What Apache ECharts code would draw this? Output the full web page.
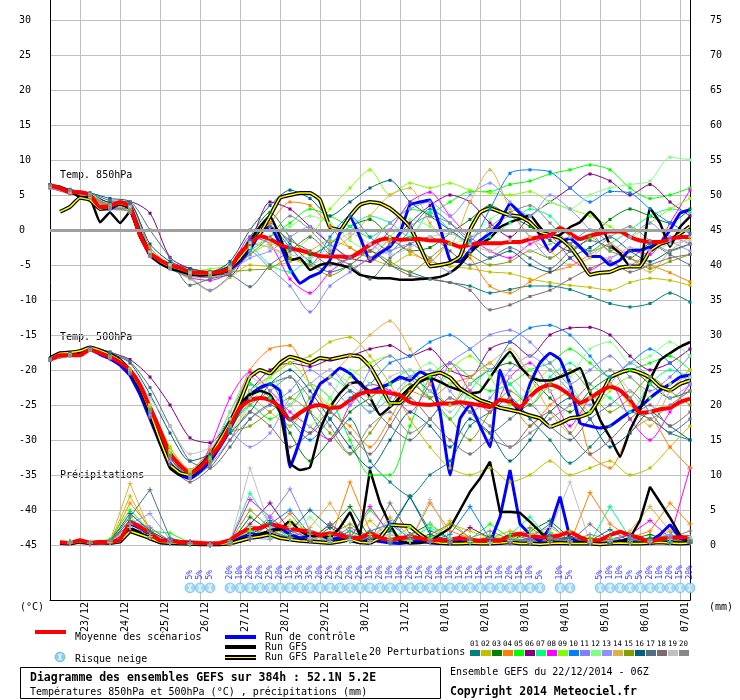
<!DOCTYPE html>
<html>
<head>
<meta charset="utf-8">
<script src="https://cdn.jsdelivr.net/npm/echarts/dist/echarts.min.js"></script>
<style>
  html, body { margin: 0; padding: 0; background: #fff; }
  #chart { width: 740px; height: 700px; }
</style>
</head>
<body>
<div id="chart"></div>
<script>
"use strict";

var MONO = "'DejaVu Sans Mono', monospace";

// time steps: every 6h from 22/12/2014 06Z, 0..384h
var hours = [];
for (var h = 0; h <= 384; h += 6) hours.push(String(h));

var dayLabels = ['23/12', '24/12', '25/12', '26/12', '27/12', '28/12', '29/12', '30/12',
	'31/12', '01/01', '02/01', '03/01', '04/01', '05/01', '06/01', '07/01'];

var pertColors = ['#008080', '#c0c000', '#008000', '#ff8000', '#00ff00', '#800080', '#00ff80', '#ff00ff',
	'#80ff00', '#0080ff', '#8080ff', '#80ff80', '#9090ff', '#e0b040', '#80a000', '#006080',
	'#507080', '#806870', '#c0c0c0', '#888888'];

// ---- 6-hourly main runs ----
var t850Mean = [6.4, 6.0, 5.4, 5.4, 5.0, 3.3, 3.4, 4.0,
	3.3, -0.7, -3.3, -4.3, -5.0, -5.4, -6.0, -6.1,
	-6.1, -6.0, -5.4, -3.3, -2.0, -0.9, -1.3, -2.1,
	-2.6, -2.9, -3.3, -3.7, -3.8, -3.8, -3.9, -3.1,
	-2.1, -1.4, -1.2, -1.4, -1.3, -1.3, -1.5, -1.5,
	-1.9, -2.4, -2.1, -1.9, -1.9, -1.9, -1.7, -1.7,
	-1.3, -1.0, -0.8, 0.3, -0.5, -1.3, -0.8, -0.5,
	-0.2, -0.2, -1.0, -1.5, -1.7, -1.7, -1.3, -1.0,
	-1.0];
var t850Ctrl = [6.3, 6.0, 5.3, 5.4, 5.0, 3.1, 3.0, 3.8,
	3.0, -0.8, -3.6, -4.6, -5.3, -5.8, -6.2, -6.4,
	-6.4, -6.1, -5.6, -4.5, -2.8, -0.5, 0.5, -2.0,
	-5.5, -7.6, -6.7, -6.1, -4.3, -0.4, 1.9, -1.0,
	-4.3, -3.3, -2.4, -0.4, 3.6, 4.0, 4.3, 0.4,
	-4.3, -4.5, -2.9, -1.5, -0.5, 1.1, 3.8, 2.4,
	1.2, -0.7, -3.1, -1.7, -1.2, -2.4, -3.8, -3.8,
	-5.0, -4.3, -2.9, -2.9, -2.4, -1.9, 0.0, 2.4,
	2.9];
var t850Gfs = [6.4, 6.2, 5.5, 4.7, 4.6, 1.1, 2.5, 1.0,
	2.6, -1.0, -3.5, -4.8, -5.5, -5.9, -6.3, -6.5,
	-6.4, -6.2, -5.7, -3.5, -1.5, 0.5, 2.0, -1.0,
	-4.3, -4.0, -5.7, -5.0, -4.7, -5.0, -5.4, -6.4,
	-6.7, -6.9, -6.9, -7.1, -7.1, -7.0, -6.9, -6.7,
	-6.1, -5.0, -3.3, -2.0, -1.2, 0.4, 1.1, 1.6,
	2.1, 0.4, -1.0, -0.7, 0.4, 1.1, 2.6, 1.1,
	-2.1, -3.3, -5.2, -5.2, 3.1, 1.0, -2.4, 0.4,
	1.9];
var t850Para = [null, 2.6, 3.3, 4.6, 4.3, 3.0, 3.3, 3.8,
	3.2, -0.5, -3.4, -4.5, -5.2, -5.6, -6.1, -6.3,
	-6.2, -6.0, -5.4, -4.0, -2.2, -0.5, 2.0, 4.6,
	5.0, 5.3, 5.3, 4.3, 0.4, 0.0, 2.0, 3.6,
	4.0, 3.8, 3.1, 1.9, 0.4, -2.4, -5.2, -5.0,
	-4.7, -3.8, 0.0, 2.5, 3.1, 2.6, 2.1, 1.9,
	1.1, -0.3, -0.7, -1.2, -2.4, -4.3, -6.4, -6.1,
	-6.0, -5.4, -5.2, -5.2, -3.0, -2.0, -1.5, -0.5,
	0.5];

var t500Mean = [-18.6, -17.9, -17.9, -17.9, -17.1, -17.6, -18.1, -18.9,
	-20.0, -22.1, -25.3, -28.6, -31.9, -33.6, -34.7, -33.9,
	-32.4, -30.7, -28.1, -25.4, -24.3, -24.0, -24.3, -25.3,
	-27.1, -26.1, -25.3, -25.0, -25.4, -25.3, -24.3, -23.4,
	-23.1, -23.1, -23.3, -23.6, -24.6, -24.9, -25.0, -24.8,
	-24.8, -24.6, -24.8, -25.0, -25.3, -24.3, -24.6, -25.3,
	-23.8, -22.6, -22.1, -22.6, -23.6, -24.7, -24.0, -23.1,
	-22.4, -22.9, -24.3, -26.1, -26.0, -25.6, -25.4, -24.6,
	-24.1];
var t500Ctrl = [-18.3, -17.7, -17.6, -17.5, -17.0, -17.8, -18.4, -19.3,
	-20.8, -23.5, -27.0, -30.5, -33.5, -35.0, -35.5, -34.5,
	-33.0, -31.0, -28.5, -25.5, -23.5, -22.5, -22.0, -23.0,
	-33.9, -30.0, -25.0, -22.0, -21.0, -19.7, -20.5, -22.0,
	-23.0, -22.5, -21.9, -21.0, -21.5, -20.3, -21.0, -26.0,
	-35.0, -27.0, -25.0, -28.0, -31.0, -20.0, -24.0, -26.0,
	-22.0, -19.0, -17.6, -18.5, -22.0, -27.6, -28.0, -28.3,
	-28.0, -27.0, -26.0, -25.3, -24.0, -22.9, -22.0, -21.0,
	-20.7];
var t500Gfs = [-18.5, -17.8, -17.8, -17.6, -17.0, -17.4, -18.0, -18.8,
	-20.2, -22.8, -26.5, -30.5, -34.0, -35.0, -34.8, -33.6,
	-32.0, -30.0, -27.5, -24.8, -23.5, -23.0, -23.5, -26.0,
	-33.3, -34.3, -33.9, -28.6, -25.3, -23.3, -21.9, -21.7,
	-23.9, -26.4, -25.3, -23.9, -22.5, -21.7, -21.1, -21.7,
	-22.4, -22.9, -23.3, -23.1, -21.1, -19.0, -17.4, -19.5,
	-21.0, -21.5, -21.5, -21.0, -20.4, -19.7, -23.3, -27.1,
	-29.6, -32.4, -28.6, -25.7, -21.4, -18.6, -17.6, -16.7,
	-16.0];
var t500Para = [-18.3, -17.6, -17.5, -17.3, -16.8, -17.2, -17.8, -18.6,
	-20.1, -22.5, -26.0, -30.0, -33.5, -34.7, -35.0, -34.0,
	-32.3, -30.0, -27.5, -24.5, -21.0, -20.0, -20.5, -19.0,
	-18.1, -18.5, -19.0, -18.3, -18.5, -18.2, -17.9, -18.1,
	-19.5, -22.0, -24.7, -24.7, -23.1, -21.4, -20.7, -20.4,
	-21.1, -22.6, -23.5, -24.3, -24.8, -25.4, -25.7, -26.0,
	-26.5, -26.9, -28.1, -27.6, -26.9, -26.7, -26.1, -23.9,
	-21.1, -20.4, -20.0, -20.4, -21.1, -22.4, -22.9, -22.0,
	-21.5];

var rrMean = [null, 0.4, 0.3, 0.7, 0.3, 0.4, 0.4, 0.7,
	3.3, 2.6, 1.7, 0.6, 0.6, 0.4, 0.4, 0.3,
	0.2, 0.3, 0.7, 1.7, 2.4, 2.4, 3.0, 2.7,
	2.3, 2.1, 1.9, 1.4, 1.7, 1.4, 1.0, 1.0,
	1.7, 1.0, 0.7, 1.0, 1.1, 1.0, 0.6, 0.7,
	0.8, 1.0, 0.7, 0.6, 0.7, 0.6, 1.4, 1.6,
	1.3, 1.1, 1.1, 1.4, 1.9, 1.1, 0.6, 0.7,
	1.4, 1.9, 1.4, 1.0, 0.4, 0.9, 1.0, 1.1,
	1.1];
var rrCtrl = [null, 0.4, 0.3, 0.6, 0.3, 0.4, 0.4, 0.6,
	3.0, 2.5, 1.5, 0.5, 0.4, 0.3, 0.2, 0.1,
	0.1, 0.1, 0.3, 1.0, 1.5, 1.5, 2.0, 2.5,
	1.5, 1.0, 1.2, 1.5, 0.8, 1.0, 0.6, 0.3,
	0.8, 0.5, 0.3, 0.2, 0.4, 0.6, 0.3, 0.2,
	0.4, 0.5, 0.3, 0.2, 0.3, 4.0, 10.7, 3.0,
	1.5, 0.5, 2.5, 6.9, 1.0, 0.3, 0.2, 0.2,
	0.3, 0.6, 0.4, 0.2, 0.5, 1.5, 2.9, 1.0,
	0.4];
var rrGfs = [null, 0.3, 0.2, 0.5, 0.2, 0.3, 0.3, 0.8,
	2.5, 1.8, 0.8, 0.3, 0.2, 0.2, 0.1, 0.1,
	0.0, 0.0, 0.3, 0.5, 1.0, 1.5, 2.0, 2.2,
	3.5, 2.0, 1.2, 1.5, 1.0, 2.5, 4.7, 1.4,
	10.7, 6.0, 2.9, 0.5, 0.2, 0.3, 0.5, 1.5,
	2.4, 5.0, 7.6, 9.5, 11.9, 4.7, 4.7, 4.6,
	3.3, 1.9, 0.5, 0.3, 0.2, 0.4, 0.3, 0.1,
	0.2, 0.5, 1.0, 3.5, 8.3, 6.1, 3.9, 1.4,
	0.4];
var rrPara = [null, 0.3, 0.2, 0.5, 0.3, 0.4, 0.3, 0.5,
	2.0, 1.5, 1.0, 0.4, 0.3, 0.2, 0.2, 0.1,
	0.1, 0.1, 0.2, 0.6, 1.0, 1.2, 1.5, 1.0,
	0.8, 0.6, 0.5, 0.4, 0.3, 0.5, 0.8, 0.4,
	0.3, 1.0, 2.9, 2.8, 2.7, 1.5, 0.5, 0.3,
	0.2, 0.2, 0.3, 0.2, 0.2, 0.3, 0.4, 0.2,
	0.2, 0.1, 0.2, 0.3, 0.2, 0.2, 0.2, 0.1,
	0.2, 0.3, 0.2, 0.2, 0.3, 0.4, 0.3, 0.2,
	0.3];

// ---- 12-hourly perturbations (01..20) ----
var t850Pert = [
	[6.2,5.6,5.2,3.8,3.0,-3.5,-5.2,-6.4,-6.0,-5.0,-1.5, 1.0,-2.0,-4.5,-6.0,-5.0,-3.0,-5.0,-6.0,-7.0,-7.5,-8.0, -9.0,-8.5,-8.0,-8.0,-8.5,-9.5,-10.5,-11.0,-10.5,-9.0,-10.3],
	[6.0,5.2,4.5,3.0,2.5,-3.8,-5.5,-7.0,-8.7,-6.8,-5.0, -5.2,-4.5,-3.0,-1.5,-2.5,-4.0,-5.0,-3.5,-4.5,-5.2,-5.5, -6.0,-6.2,-7.0,-7.5,-7.9,-8.2,-8.6,-7.5,-6.9,-7.2,-7.9],
	[6.3,5.5,5.1,3.6,3.4,-3.0,-4.8,-5.8,-6.2,-5.6,-1.0, 2.5,-1.0,-3.5,-2.0,0.5,1.5,-1.0,-3.0,-2.5,-0.5,1.5, 3.5,2.0,0.5,-1.5,-3.0,-1.0,1.5,3.0,2.0,1.0,3.0],
	[6.1,5.3,4.6,3.2,3.6,-2.5,-5.0,-6.2,-6.4,-5.0,-2.0, 1.0,4.0,3.5,0.5,-2.5,-3.9,-1.5,-3.0,-4.5,-2.0,-4.0, -8.0,-9.0,-7.4,-6.0,-5.2,-3.5,-2.0,-4.0,-5.0,-6.1,-7.4],
	[6.4,5.6,5.2,3.5,3.0,-3.6,-5.4,-6.5,-6.6,-6.0,-3.0, -1.0,1.0,3.0,2.0,0.5,-1.0,1.0,3.0,2.5,4.0,5.5, 5.5,6.5,7.0,8.0,8.6,9.3,8.6,6.0,4.5,5.0,6.0],
	[6.5,5.8,5.0,4.0,4.0,2.4,-3.9,-5.5,-6.0,-6.5,-2.0, 4.0,3.0,0.5,-2.0,-4.0,-4.5,-2.0,1.0,3.5,5.0,4.0, 1.0,-1.0,2.0,4.0,6.0,8.0,7.0,5.0,6.5,4.0,2.0],
	[6.2,5.4,5.0,3.3,3.1,-3.2,-5.1,-6.0,-6.0,-5.2,-2.5, -5.0,-6.0,-4.0,-2.0,0.5,2.0,1.0,-1.0,2.5,0.0,-2.0, -1.0,1.0,3.0,2.0,-1.0,-3.0,-2.0,0.0,2.0,3.0,2.5],
	[6.0,5.2,4.8,3.2,3.0,-3.5,-5.3,-6.8,-7.2,-6.0,-1.0, -2.0,-7.0,-9.0,-6.0,-4.0,-3.0,0.0,4.0,5.4,2.0,-1.0, -3.0,-4.0,-2.0,-1.0,-4.0,-5.7,-4.0,-3.0,-3.5,1.0,5.7],
	[6.3,5.5,4.9,3.6,3.2,-3.1,-5.0,-5.8,-5.6,-5.0,-3.5, -2.0,-3.0,-1.0,3.0,6.0,8.6,5.0,6.7,6.0,6.7,5.7, 5.3,5.0,5.5,4.0,3.0,2.0,0.5,-1.0,1.0,3.0,4.5],
	[6.2,5.5,5.0,3.4,3.5,-3.0,-4.9,-6.0,-6.3,-5.0,-1.5, 0.5,-2.5,-5.0,-1.0,2.0,-1.0,-3.0,0.0,3.0,1.0,-1.5, 3.0,8.1,8.6,8.3,6.0,4.0,5.5,5.3,3.0,1.0,-0.5],
	[6.0,5.3,4.7,3.0,2.8,-3.8,-5.6,-6.8,-8.6,-6.5,-3.0, -5.5,-8.0,-11.7,-8.0,-6.0,-4.0,-3.0,-2.0,-4.0,-6.0,-3.0, 0.0,2.0,-1.0,-4.0,-2.0,0.0,-2.0,-5.0,-3.0,-1.0,-2.0],
	[6.3,5.6,5.2,3.5,3.3,-3.4,-5.0,-6.1,-6.2,-5.5,-2.5, -1.0,0.5,2.0,1.0,-1.5,-3.0,-1.0,1.5,0.5,-2.0,-1.0, 1.5,3.0,2.0,4.0,3.0,5.0,6.0,6.5,7.0,10.4,10.0],
	[6.1,5.4,4.9,3.4,3.1,-3.3,-5.2,-6.3,-6.5,-5.8,-4.0, -3.0,-1.0,0.5,-2.0,-4.0,-2.0,1.0,3.0,4.0,2.0,5.0, 6.7,4.0,2.0,5.0,3.0,0.0,-3.0,-1.0,1.0,-1.5,-3.0],
	[6.2,5.4,4.8,3.3,3.2,-3.2,-5.3,-6.4,-6.6,-5.6,-2.0, -2.5,-4.0,-5.0,-3.0,-1.0,2.0,5.0,6.0,1.0,-2.0,4.0, 8.6,3.0,-1.0,-3.0,-5.0,-4.0,-2.0,-4.0,-6.0,-3.0,-1.0],
	[6.1,5.3,4.9,3.2,3.0,-3.6,-5.4,-6.2,-6.3,-6.0,-5.7, -5.5,-4.0,-5.0,-6.5,-5.0,-3.0,-4.5,-6.0,-4.0,-2.0,-3.5, -5.0,-4.5,-3.0,-4.0,-2.0,-1.0,-3.0,-4.0,-5.5,-4.5,-3.5],
	[6.4,5.6,5.3,4.5,4.0,-2.0,-4.5,-5.5,-6.0,-4.5,0.0, 3.5,5.7,4.5,2.0,4.0,6.0,7.1,4.0,2.0,0.0,-2.0, -4.0,-3.0,-5.0,-6.0,-4.0,-2.5,-1.0,-3.0,-4.5,-3.0,-2.0],
	[6.5,5.8,5.3,4.2,4.0,0.0,-4.0,-7.9,-7.0,-6.5,-8.1, -5.0,-3.0,-1.0,-3.5,-5.0,-7.0,-4.0,-2.0,-1.0,-3.0,-5.0, -4.0,-2.5,-4.0,-5.5,-3.0,-1.5,-2.5,-4.0,-2.0,-3.5,-5.0],
	[6.3,5.7,5.0,3.5,3.3,-3.4,-5.2,-6.0,-6.0,-5.2,-2.0, 0.5,-1.5,-3.0,-5.0,-4.0,-3.0,-5.0,-6.5,-7.0,-7.5,-8.6, -11.4,-10.7,-9.5,-8.6,-7.0,-5.5,-4.5,-6.0,-5.0,-4.0,-3.5],
	[6.2,5.4,5.1,3.4,3.3,-3.1,-5.0,-6.1,-6.1,-5.3,-1.8, -2.5,-3.5,-4.0,-2.5,-0.5,-2.0,-3.5,-2.5,-1.0,-0.5,-2.0, -3.0,-1.5,-3.0,-2.0,-1.0,-3.5,-4.0,-2.5,-3.0,-2.0,-1.5],
	[6.3,5.6,5.0,3.3,2.5,-3.7,-5.5,-6.6,-6.8,-6.0,-3.5, -1.0,2.0,0.0,-3.0,-5.5,-4.0,-2.0,0.5,2.0,1.0,-1.0, 0.5,2.5,3.5,1.0,-2.0,-3.0,-1.0,0.5,-1.5,-3.0,-2.0]
];

var t500Pert = [
	[-18.4,-17.8,-17.2,-18.0,-20.5,-26.0,-32.5,-35.0,-33.0,-28.0,-24.0, -22.0,-21.0,-26.0,-30.0,-27.0,-33.0,-36.0,-38.0,-35.0,-33.0,-28.0, -26.0,-24.0,-27.0,-30.0,-33.3,-31.0,-28.0,-26.0,-27.0,-29.0,-30.0],
	[-18.6,-17.9,-17.0,-18.2,-19.8,-25.0,-31.5,-34.5,-32.0,-28.0,-23.0, -21.0,-19.0,-18.0,-16.0,-15.3,-18.0,-22.0,-27.0,-31.0,-34.0,-35.0, -34.0,-36.0,-35.0,-33.0,-35.0,-34.0,-33.0,-35.0,-34.0,-31.0,-28.0],
	[-18.5,-17.9,-17.1,-18.1,-20.0,-25.5,-32.0,-34.5,-32.5,-27.0,-22.0, -24.0,-29.0,-33.0,-30.0,-26.0,-24.0,-22.0,-21.0,-23.0,-25.0,-22.0, -20.0,-19.0,-21.0,-24.0,-26.0,-23.0,-21.0,-20.0,-22.0,-24.0,-23.0],
	[-18.4,-17.7,-16.9,-17.9,-19.9,-25.0,-31.0,-34.2,-31.5,-27.0,-20.0, -17.0,-16.5,-22.0,-26.0,-28.0,-31.0,-27.0,-23.0,-24.0,-22.0,-21.0, -19.0,-24.0,-28.0,-25.0,-23.0,-32.0,-34.0,-29.0,-27.0,-31.0,-34.0],
	[-18.6,-18.0,-17.2,-18.3,-20.2,-26.0,-32.0,-34.6,-32.8,-28.5,-25.0, -27.0,-25.0,-22.0,-24.0,-30.0,-35.0,-35.0,-28.0,-21.0,-19.0,-21.0, -23.0,-22.0,-20.0,-19.0,-17.0,-19.0,-21.0,-20.0,-19.0,-18.0,-20.0],
	[-18.4,-17.6,-16.9,-17.5,-18.5,-21.0,-25.0,-29.7,-30.4,-27.0,-23.0, -20.0,-19.0,-19.5,-18.5,-18.0,-17.0,-16.5,-18.0,-17.0,-20.0,-21.0, -17.0,-16.0,-18.0,-15.0,-14.0,-13.9,-15.0,-18.0,-20.0,-19.0,-17.0],
	[-18.5,-17.8,-17.1,-18.0,-20.0,-25.5,-32.0,-35.0,-32.5,-26.0,-22.0, -24.0,-28.0,-24.0,-21.0,-23.0,-26.0,-22.0,-20.0,-24.0,-27.0,-23.0, -20.0,-22.0,-25.0,-21.0,-19.0,-22.0,-24.0,-26.0,-22.0,-20.0,-21.0],
	[-18.6,-17.9,-17.2,-18.4,-20.5,-26.5,-33.0,-35.5,-31.0,-24.0,-20.3, -23.0,-26.0,-28.1,-30.0,-25.0,-22.0,-23.0,-26.0,-22.0,-19.0,-23.0, -26.0,-21.0,-19.0,-23.0,-28.0,-24.0,-22.0,-27.0,-30.0,-26.0,-22.0],
	[-18.5,-17.8,-17.0,-18.1,-20.0,-25.0,-31.0,-34.5,-33.0,-29.0,-25.0, -21.0,-19.0,-22.0,-25.0,-21.0,-19.0,-18.0,-21.0,-24.0,-20.0,-18.0, -21.0,-25.0,-23.0,-20.0,-22.0,-26.0,-23.0,-21.0,-24.0,-22.0,-20.0],
	[-18.5,-17.9,-17.1,-18.2,-20.3,-26.0,-32.5,-35.2,-33.0,-28.5,-24.0, -22.0,-27.0,-30.0,-27.0,-24.0,-22.0,-19.0,-18.0,-16.0,-15.0,-17.0, -20.0,-16.0,-14.0,-13.6,-15.0,-18.0,-21.0,-19.0,-17.0,-19.0,-22.0],
	[-18.4,-17.8,-17.1,-18.0,-20.2,-25.7,-32.0,-34.8,-33.5,-30.0,-27.0, -25.0,-23.0,-20.0,-22.0,-25.0,-20.0,-18.0,-21.0,-24.0,-19.0,-17.0, -15.0,-14.3,-16.0,-19.0,-22.0,-20.0,-18.0,-21.0,-23.0,-21.0,-18.0],
	[-18.5,-17.9,-17.1,-18.1,-20.0,-25.0,-31.5,-34.3,-32.0,-27.0,-23.0, -21.0,-25.0,-28.0,-24.0,-20.0,-22.0,-25.0,-21.0,-19.0,-22.0,-24.0, -21.0,-18.0,-20.0,-23.0,-21.0,-17.0,-16.0,-19.0,-18.0,-16.0,-18.0],
	[-18.6,-18.0,-17.2,-18.2,-20.4,-26.5,-33.0,-35.3,-33.5,-29.0,-31.0, -29.0,-24.0,-22.0,-20.0,-23.0,-26.0,-24.0,-21.0,-20.0,-23.0,-26.0, -24.0,-20.0,-18.0,-20.0,-23.0,-25.0,-22.0,-19.0,-21.0,-24.0,-22.0],
	[-18.4,-17.7,-17.0,-18.0,-19.9,-25.2,-31.8,-34.6,-32.8,-28.0,-24.0, -26.0,-28.0,-24.0,-21.0,-18.0,-15.0,-13.0,-17.0,-22.0,-25.0,-21.0, -19.0,-17.0,-21.0,-26.0,-29.0,-24.0,-22.0,-25.0,-28.0,-23.0,-20.0],
	[-18.5,-17.8,-17.1,-18.1,-20.1,-25.6,-32.2,-34.9,-33.0,-29.0,-28.0, -26.0,-24.0,-26.0,-29.0,-32.0,-29.0,-25.0,-22.0,-24.0,-27.0,-30.0, -26.0,-23.0,-25.0,-22.0,-20.0,-23.0,-26.0,-24.0,-21.0,-23.0,-25.0],
	[-18.4,-17.7,-16.8,-17.6,-19.0,-23.5,-29.0,-33.0,-32.0,-29.0,-26.0, -22.0,-20.0,-23.0,-27.0,-31.0,-34.0,-30.0,-26.0,-28.0,-31.0,-27.0, -29.0,-33.0,-30.0,-26.0,-24.0,-27.0,-31.0,-29.0,-26.0,-28.0,-30.0],
	[-18.5,-17.8,-16.9,-17.4,-18.8,-22.5,-28.0,-33.0,-34.0,-31.0,-27.0, -25.0,-27.0,-29.0,-26.0,-23.0,-25.0,-28.0,-30.0,-27.0,-24.0,-26.0, -29.0,-27.0,-25.0,-28.0,-30.0,-27.0,-25.0,-23.0,-26.0,-29.0,-27.0],
	[-18.6,-17.9,-17.2,-18.3,-20.6,-26.8,-33.5,-36.0,-34.0,-30.0,-26.0, -28.0,-31.0,-29.0,-26.0,-29.0,-32.0,-28.0,-24.0,-27.0,-30.0,-32.0, -30.0,-31.0,-28.0,-26.0,-29.0,-32.0,-30.0,-27.0,-25.0,-28.0,-26.0],
	[-18.5,-17.8,-17.1,-18.2,-20.2,-24.0,-28.0,-32.0,-31.0,-26.0,-21.0, -23.0,-25.0,-22.0,-20.0,-22.0,-24.0,-21.0,-20.0,-23.0,-26.0,-22.0, -20.0,-21.0,-24.0,-28.0,-25.0,-22.0,-20.0,-23.0,-26.0,-22.0,-21.0],
	[-18.5,-17.9,-17.1,-18.2,-20.3,-26.0,-32.5,-35.5,-33.5,-28.0,-25.0, -23.0,-21.0,-24.0,-28.0,-31.9,-28.0,-26.0,-29.0,-27.0,-24.0,-26.0, -28.0,-31.0,-29.0,-27.0,-25.0,-22.0,-20.0,-24.0,-27.0,-25.0,-23.0]
];

var rrPert = [
	[null,0.4,0.2,0.6,3.0,1.8,0.3,0.1,0.0,0.3,1.8, 3.5,1.2,2.0,0.6,1.5,0.8,2.5,6.9,2.0,1.0,0.4, 0.3,1.5,0.8,1.2,0.4,0.6,2.2,0.5,0.3,1.0,0.6],
	[null,0.5,0.2,0.4,7.0,2.0,0.4,0.2,0.0,0.1,2.5, 1.0,3.0,1.5,0.5,0.8,3.5,1.0,0.5,0.8,3.0,2.0, 1.0,2.0,1.5,0.5,1.0,0.4,0.8,1.5,0.5,2.0,0.8],
	[null,0.3,0.3,0.5,3.5,1.2,0.2,0.1,0.0,0.2,4.0, 2.0,1.0,0.5,2.5,5.5,1.0,0.5,1.5,3.0,0.8,0.3, 1.2,0.5,2.0,3.5,1.0,0.4,0.3,0.8,1.5,0.6,0.4],
	[null,0.2,0.2,0.3,6.0,2.5,0.5,0.1,0.0,0.1,0.8, 2.0,4.5,1.0,0.5,9.0,2.0,0.8,0.5,6.0,2.0,1.0, 0.3,0.5,0.8,0.4,0.3,7.5,3.0,1.0,2.0,6.0,3.0],
	[null,0.5,0.3,0.8,5.0,2.0,1.7,0.3,0.1,0.4,2.0, 3.0,1.5,0.8,3.0,1.0,5.0,2.0,0.5,1.2,0.4,0.8, 3.0,1.0,0.5,1.8,0.6,0.3,1.0,0.5,0.8,1.5,0.5],
	[null,0.3,0.1,0.4,2.0,1.0,0.8,0.5,0.2,0.5,3.0, 6.0,2.0,1.0,0.5,2.0,0.8,0.4,1.5,0.6,0.3,2.5, 1.0,0.4,0.3,0.6,1.2,0.5,0.2,0.4,1.0,0.6,0.3],
	[null,0.4,0.2,0.5,3.0,1.5,0.3,0.1,0.0,0.6,7.4, 3.0,1.0,0.5,0.8,2.0,0.6,0.3,1.0,2.5,0.8,0.4, 0.3,1.5,4.0,0.8,0.5,0.3,5.5,1.0,0.5,0.3,1.0],
	[null,0.3,0.2,0.4,2.5,1.0,0.4,0.2,0.0,0.5,6.5, 4.0,1.5,0.6,3.0,1.0,5.5,1.5,0.8,0.4,0.6,1.0, 0.5,0.3,0.8,0.4,0.6,0.3,0.5,1.5,3.5,1.0,11.0],
	[null,0.5,0.3,0.6,4.0,1.5,0.5,0.2,0.1,0.3,2.0, 1.0,3.5,2.0,1.0,0.5,1.5,0.8,2.5,1.0,0.4,0.3, 1.5,0.6,0.4,1.0,2.0,0.8,0.4,0.6,1.0,0.5,0.3],
	[null,0.3,0.2,0.5,3.0,1.2,0.3,0.1,0.0,0.2,1.0, 3.0,5.0,1.5,0.8,0.5,2.0,3.0,1.0,0.5,1.5,5.5, 0.8,0.4,1.0,3.0,0.5,0.3,0.8,1.5,0.5,0.4,0.8],
	[null,0.4,0.2,0.5,3.5,2.5,0.6,0.2,0.0,0.4,1.5, 4.0,8.0,2.0,1.0,0.6,0.4,0.8,1.5,0.6,0.3,0.5, 1.0,0.4,0.6,0.8,0.4,0.3,0.5,1.0,0.6,1.2,0.5],
	[null,0.6,0.4,0.5,4.0,1.5,0.5,0.3,0.0,0.3,2.5, 1.5,0.8,4.0,1.0,0.5,0.8,1.5,0.6,3.0,1.0,0.5, 0.3,0.8,2.0,0.5,0.3,0.6,1.0,0.4,0.5,0.3,0.6],
	[null,0.3,0.2,0.4,3.0,4.5,0.8,0.3,0.1,0.3,1.0, 0.8,2.0,1.0,0.5,1.5,0.6,3.5,0.8,0.4,0.3,0.6, 1.0,0.5,0.4,1.0,0.6,0.3,0.5,0.8,0.4,1.5,0.8],
	[null,0.4,0.3,0.6,8.8,2.0,0.4,0.2,0.0,0.2,0.8, 2.0,1.0,2.5,6.0,1.5,0.6,4.0,1.2,0.5,3.5,1.0, 0.4,0.6,1.5,2.5,1.0,0.5,0.3,2.0,5.5,2.0,0.5],
	[null,0.3,0.2,0.4,2.5,1.0,0.3,0.1,0.0,0.5,5.0, 2.5,1.5,0.8,1.5,3.0,1.0,0.5,0.8,1.5,3.0,1.0, 0.5,0.8,2.5,0.6,0.4,1.0,0.5,0.3,0.6,1.0,0.4],
	[null,0.4,0.3,0.5,4.5,2.0,0.5,0.2,0.0,0.3,1.5, 3.0,2.0,5.0,2.5,1.0,0.8,2.0,6.9,1.5,0.6,0.4, 0.8,0.5,0.3,0.6,1.0,0.4,0.3,0.5,1.0,0.6,0.3],
	[null,0.3,0.2,0.6,4.0,7.9,1.0,0.3,0.1,0.2,0.8, 1.5,1.0,0.6,0.4,1.2,0.5,0.3,1.0,0.6,0.4,0.8, 0.5,0.3,0.6,1.5,0.5,0.3,0.4,0.8,0.5,0.3,0.6],
	[null,0.4,0.2,0.5,3.5,1.5,0.4,0.2,0.0,0.2,1.2, 2.0,1.0,0.5,3.0,0.8,0.5,6.0,1.5,0.5,0.3,0.6, 1.0,0.5,0.4,0.8,0.5,3.0,0.6,0.3,0.5,0.8,0.4],
	[null,0.3,0.2,0.4,2.5,1.2,0.3,0.1,0.0,0.3,11.0, 2.5,2.5,1.0,0.5,0.8,0.4,1.5,0.6,6.5,1.0,0.5, 0.3,0.6,0.4,2.0,9.0,0.4,0.6,0.3,0.5,0.8,1.2],
	[null,0.4,0.2,0.5,3.0,1.5,0.4,0.2,0.0,0.2,1.5, 2.0,1.0,1.5,0.8,2.5,1.0,0.6,1.5,0.8,0.5,1.0, 2.0,0.8,0.6,1.0,0.5,1.5,0.8,0.4,0.6,1.0,2.0]
];

// snow risk (%) per 6h step, 0 = none
var snowRisk = [0,0,0,0,0,0,0,0,
	0,0,0,0,0,0,5,5,
	5,0,20,10,20,20,25,20,
	15,35,35,20,25,25,20,25,
	15,20,10,10,20,15,20,10,
	10,15,15,15,15,10,20,15,
	10,5,0,10,5,0,0,5,
	10,10,5,5,20,10,20,15,
	20];

// six-armed flake drawn in a 20x20 box
var FLAKE_POLYS = [
	[[9, 1], [11, 1], [11, 19], [9, 19]],
	[[6.1, 2.0], [15.1, 17.6], [13.4, 18.6], [4.4, 3.0]],
	[[4.4, 17.0], [13.4, 1.4], [15.1, 2.4], [6.1, 18.0]]
];
var FLAKE = FLAKE_POLYS.map(function(poly) {
	return 'M' + poly.map(function(q) { return q[0] + ',' + q[1]; }).join('L') + 'Z';
}).join(' ');
var PLUS = 'path://M2,0H3V2H5V3H3V5H2V3H0V2H2Z';
var FLAKE_BG = '#8ccff2';

function isMidnight(index) {
	return (index * 6) % 24 === 18;
}

function spread12h(arr) {
	var out = [];
	for (var i = 0; i < hours.length; i++) {
		out.push(i % 2 === 0 ? arr[i / 2] : null);
	}
	return out;
}

function lineSeries(data, color, width, yAxisIndex, opts) {
	opts = opts || {};
	var s = {
		type: 'line',
		xAxisIndex: 0,
		yAxisIndex: yAxisIndex,
		data: data,
		connectNulls: true,
		silent: true,
		smooth: opts.smooth || false,
		showSymbol: !!opts.symbol,
		showAllSymbol: true,
		symbol: opts.symbol || 'none',
		symbolSize: opts.symbolSize || 3,
		itemStyle: { color: color },
		lineStyle: { color: color, width: width }
	};
	if (opts.markLine) s.markLine = opts.markLine;
	return s;
}

var series = [];

// precipitation perturbations (right axis)
for (var p = 0; p < 20; p++) {
	series.push(lineSeries(spread12h(rrPert[p]), pertColors[p], 1, 1, { symbol: PLUS, symbolSize: 5 }));
}
// temperature perturbations
for (p = 0; p < 20; p++) {
	var opts850 = { symbol: 'rect', symbolSize: 3, smooth: 0.25 };
	if (p === 0) {
		opts850.markLine = {
			silent: true, symbol: 'none', label: { show: false },
			lineStyle: { color: '#a0a0a0', width: 3, type: 'solid' },
			data: [{ yAxis: 0 }]
		};
	}
	series.push(lineSeries(spread12h(t850Pert[p]), pertColors[p], 1, 0, opts850));
	series.push(lineSeries(spread12h(t500Pert[p]), pertColors[p], 1, 0, { symbol: 'rect', symbolSize: 3, smooth: 0.25 }));
}

// control run
series.push(lineSeries(rrCtrl, '#0000ff', 3, 1));
series.push(lineSeries(t850Ctrl, '#0000ff', 3, 0, { smooth: 0.12 }));
series.push(lineSeries(t500Ctrl, '#0000ff', 3, 0, { smooth: 0.12 }));
// GFS run
series.push(lineSeries(rrGfs, '#000000', 2.5, 1));
series.push(lineSeries(t850Gfs, '#000000', 2.5, 0, { smooth: 0.12 }));
series.push(lineSeries(t500Gfs, '#000000', 2.5, 0, { smooth: 0.12 }));
// GFS parallel: black casing + yellow core
[[rrPara, 1], [t850Para, 0], [t500Para, 0]].forEach(function(d) {
	var sm = d[1] === 0 ? 0.12 : false;
	series.push(lineSeries(d[0], '#000000', 4, d[1], { smooth: sm }));
	series.push(lineSeries(d[0], '#ffff00', 1.5, d[1], { smooth: sm }));
});
// ensemble mean
series.push(lineSeries(rrMean, '#ff0000', 4, 1));
series.push(lineSeries(t850Mean, '#ff0000', 4, 0, { smooth: 0.2 }));
series.push(lineSeries(t500Mean, '#ff0000', 4, 0, { smooth: 0.2 }));

// snow risk row: light-blue disc with a white flake, percentage above
var snowData = [];
for (var i = 0; i < snowRisk.length; i++) {
	if (snowRisk[i] > 0) snowData.push([i, 0.22, snowRisk[i]]);
}
series.push({
	type: 'scatter',
	xAxisIndex: 2,
	yAxisIndex: 4,
	silent: true,
	symbol: 'circle',
	symbolSize: 10,
	itemStyle: { color: FLAKE_BG, borderColor: '#5aa8e0', borderWidth: 0.6 },
	label: {
		show: true,
		formatter: function(p) { return p.value[2] + '%'; },
		position: [5, -3],
		rotate: 90,
		align: 'left',
		verticalAlign: 'middle',
		color: '#0000ff',
		fontFamily: MONO,
		fontSize: 8
	},
	data: snowData
});
series.push({
	type: 'scatter',
	xAxisIndex: 2,
	yAxisIndex: 4,
	silent: true,
	symbol: 'path://' + FLAKE,
	symbolKeepAspect: true,
	symbolSize: 8,
	itemStyle: { color: '#ffffff' },
	data: snowData
});

function xAxisFor(g) {
	return {
		type: 'category',
		gridIndex: g,
		data: hours,
		boundaryGap: false,
		axisLine: { show: g === 2, onZero: false, lineStyle: { color: '#000', width: 1 } },
		axisTick: { show: false },
		axisLabel: g === 2 ? {
			show: true,
			interval: isMidnight,
			rotate: 90,
			margin: 2,
			verticalAlign: 'top',
			fontFamily: MONO,
			fontSize: 10,
			color: '#000',
			formatter: function(v) { return dayLabels[(Number(v) - 18) / 24]; }
		} : { show: false },
		splitLine: { show: true, interval: isMidnight, lineStyle: { color: '#c0c0c0', width: 1 } }
	};
}

function frameAxis(g, pos) {
	return {
		type: 'value', gridIndex: g, position: pos, min: 0, max: 1,
		axisLine: { show: true, lineStyle: { color: '#000', width: 1 } },
		axisTick: { show: false }, axisLabel: { show: false }, splitLine: { show: false }
	};
}

function txt(x, y, s, font) {
	return { type: 'text', x: x, y: y, style: { text: s, font: font || ('10px ' + MONO), fill: '#000', verticalAlign: 'middle' } };
}

// legend snowflake: disc plus white flake (20x20 design scaled by 0.4)
function flakeLegend(cx, cy) {
	var out = [{ type: 'circle', shape: { cx: cx, cy: cy, r: 5 }, style: { fill: FLAKE_BG, stroke: '#5aa8e0', lineWidth: 0.6 } }];
	FLAKE_POLYS.forEach(function(pts) {
		out.push({
			type: 'polygon',
			shape: { points: pts.map(function(q) { return [cx - 4 + q[0] * 0.4, cy - 4 + q[1] * 0.4]; }) },
			style: { fill: '#ffffff' }
		});
	});
	return out;
}

var graphic = [
	txt(60, 175, 'Temp. 850hPa'),
	txt(60, 337, 'Temp. 500hPa'),
	txt(60, 475, 'Précipitations'),
	txt(20, 607, '(°C)'),
	txt(709, 607, '(mm)'),
	{ type: 'rect', shape: { x: 35, y: 630, width: 31, height: 4 }, style: { fill: '#ff0000' } },
	txt(75, 637, 'Moyenne des scénarios'),
	txt(75, 659, 'Risque neige'),
	{ type: 'rect', shape: { x: 225, y: 635, width: 31, height: 4 }, style: { fill: '#0000ff' } },
	txt(265, 637, 'Run de contrôle'),
	{ type: 'rect', shape: { x: 225, y: 645, width: 31, height: 4 }, style: { fill: '#000' } },
	txt(265, 647, 'Run GFS'),
	{ type: 'rect', shape: { x: 225, y: 655, width: 31, height: 5 }, style: { fill: '#000' } },
	{ type: 'rect', shape: { x: 225, y: 657, width: 31, height: 1 }, style: { fill: '#ffff00' } },
	txt(265, 657, 'Run GFS Parallele'),
	txt(369, 652, '20 Perturbations'),
	{ type: 'rect', shape: { x: 20.5, y: 667.5, width: 420, height: 31 }, style: { fill: 'none', stroke: '#000', lineWidth: 1 } },
	txt(30, 678, 'Diagramme des ensembles GEFS sur 384h : 52.1N 5.2E', 'bold 11.5px ' + MONO),
	txt(30, 692, 'Températures 850hPa et 500hPa (°C) , précipitations (mm)'),
	txt(450, 672, 'Ensemble GEFS du 22/12/2014 - 06Z'),
	txt(450, 692, 'Copyright 2014 Meteociel.fr', 'bold 11.5px ' + MONO)
].concat(flakeLegend(60, 657));

for (p = 0; p < 20; p++) {
	graphic.push({ type: 'rect', shape: { x: 470 + p * 11, y: 650, width: 10, height: 6 }, style: { fill: pertColors[p] } });
	graphic.push(txt(470 + p * 11, 644, (p < 9 ? '0' : '') + (p + 1), '7.5px ' + MONO));
}

var chart = echarts.init(document.getElementById('chart'), null, { renderer: 'canvas' });
chart.setOption({
	animation: false,
	backgroundColor: '#ffffff',
	grid: [
		{ left: 50, right: 50, top: 20, height: 525 },
		{ left: 50, right: 50, top: 0, height: 20 },
		{ left: 50, right: 50, top: 545, height: 55 }
	],
	xAxis: [xAxisFor(0), xAxisFor(1), xAxisFor(2)],
	yAxis: [
		{
			type: 'value', gridIndex: 0, position: 'left', min: -45, max: 30, interval: 5,
			axisLine: { show: true, lineStyle: { color: '#000', width: 1 } },
			axisTick: { show: false },
			axisLabel: { align: 'left', margin: 31, color: '#000', fontFamily: MONO, fontSize: 10 },
			splitLine: { show: true, lineStyle: { color: '#c0c0c0', width: 1 } }
		},
		{
			type: 'value', gridIndex: 0, position: 'right', min: 0, max: 75, interval: 5,
			axisLine: { show: true, lineStyle: { color: '#000', width: 1 } },
			axisTick: { show: false },
			axisLabel: { margin: 20, color: '#000', fontFamily: MONO, fontSize: 10 },
			splitLine: { show: false }
		},
		frameAxis(1, 'left'), frameAxis(1, 'right'),
		frameAxis(2, 'left'), frameAxis(2, 'right')
	],
	graphic: graphic,
	series: series
});
</script>
</body>
</html>
